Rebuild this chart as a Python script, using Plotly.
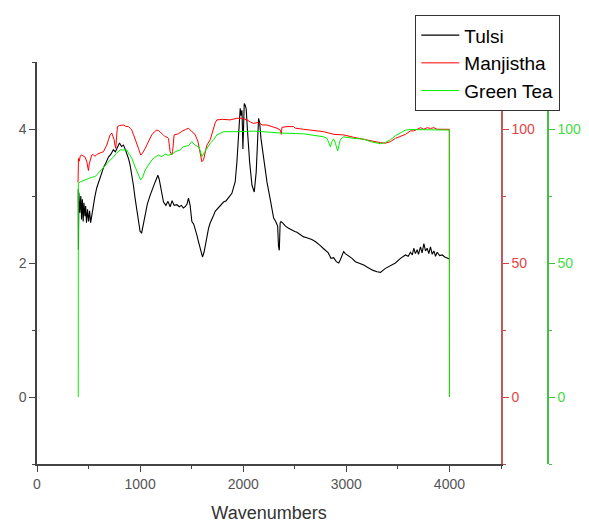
import plotly.graph_objects as go

# ---------------- data ----------------
tulsi_wn = [400, 402, 406, 415, 425, 432, 440, 448, 455, 465, 472, 480, 490, 500, 510, 520, 531, 545, 560, 579,
            600, 620, 644, 670, 693, 715, 741, 760, 780, 800, 820, 838, 855, 871, 887, 903, 920, 935, 950, 968,
            985, 1000, 1015, 1030, 1049, 1070, 1097, 1120, 1146, 1160, 1172, 1185, 1200, 1227, 1250, 1270, 1291, 1310, 1330, 1356,
            1380, 1400, 1420, 1437, 1455, 1469, 1485, 1502, 1520, 1534, 1550, 1566, 1585, 1605, 1620, 1631, 1648, 1664, 1680, 1696,
            1712, 1728, 1745, 1761, 1785, 1809, 1835, 1858, 1875, 1890, 1905, 1922, 1939, 1955, 1963, 1971, 1980, 1988, 1997, 2004,
            2010, 2020, 2029, 2042, 2062, 2085, 2107, 2126, 2140, 2149, 2159, 2172, 2198, 2230, 2262, 2295, 2315, 2334, 2342, 2350,
            2358, 2366, 2382, 2410, 2440, 2473, 2500, 2521, 2550, 2586, 2610, 2634, 2665, 2699, 2725, 2748, 2775, 2797, 2825, 2851,
            2877, 2903, 2926, 2942, 2958, 2974, 2990, 3023, 3055, 3088, 3130, 3169, 3200, 3233, 3260, 3298, 3331, 3379, 3428, 3476,
            3525, 3550, 3573, 3600, 3622, 3640, 3654, 3670, 3687, 3700, 3719, 3735, 3752, 3768, 3784, 3800, 3816, 3833, 3849, 3865,
            3881, 3905, 3930, 3955, 3978, 4000]
tulsi_abs = [3.10, 2.20, 3.05, 2.75, 3.00, 2.65, 2.95, 2.62, 2.90, 2.70, 2.85, 2.60, 2.80, 2.62, 2.78, 2.60, 2.72, 2.85, 2.98, 3.12,
             3.22, 3.30, 3.42, 3.50, 3.58, 3.62, 3.69, 3.66, 3.72, 3.79, 3.74, 3.76, 3.70, 3.64, 3.56, 3.46, 3.32, 3.16, 2.98, 2.77,
             2.58, 2.47, 2.45, 2.58, 2.75, 2.88, 3.01, 3.12, 3.21, 3.26, 3.31, 3.25, 3.12, 2.91, 2.86, 2.92, 2.84, 2.93, 2.86, 2.87,
             2.84, 2.86, 2.82, 2.84, 2.88, 2.97, 2.86, 2.62, 2.58, 2.52, 2.42, 2.32, 2.20, 2.09, 2.16, 2.26, 2.40, 2.52, 2.60, 2.67,
             2.71, 2.77, 2.80, 2.84, 2.87, 2.91, 2.93, 2.97, 3.00, 3.04, 3.12, 3.21, 3.51, 4.01, 4.25, 4.31, 4.20, 4.28, 3.70, 4.30,
             4.38, 4.35, 4.30, 3.96, 3.51, 3.16, 3.06, 3.36, 3.90, 4.16, 4.10, 3.86, 3.57, 3.21, 2.95, 2.67, 2.62, 2.55, 2.25, 2.19,
             2.60, 2.62, 2.60, 2.55, 2.52, 2.49, 2.47, 2.46, 2.43, 2.39, 2.38, 2.37, 2.35, 2.32, 2.28, 2.26, 2.22, 2.19, 2.15, 2.07,
             2.08, 2.02, 2.00, 2.05, 2.12, 2.17, 2.14, 2.11, 2.07, 2.02, 2.00, 1.97, 1.94, 1.91, 1.89, 1.87, 1.86, 1.92, 1.96, 2.00,
             2.07, 2.10, 2.12, 2.10, 2.16, 2.12, 2.22, 2.14, 2.20, 2.13, 2.24, 2.15, 2.29, 2.18, 2.22, 2.14, 2.24, 2.13, 2.18, 2.10,
             2.16, 2.11, 2.12, 2.09, 2.08, 2.06]

manj_wn = [398, 400, 402, 410, 420, 434, 450, 466, 482, 492, 499, 507, 515, 531, 545, 563, 580, 596, 620, 644,
           660, 677, 693, 709, 725, 740, 748, 756, 764, 772, 780, 800, 820, 838, 860, 887, 905, 919, 935, 951,
           968, 984, 995, 1006, 1020, 1032, 1050, 1065, 1090, 1113, 1140, 1162, 1180, 1194, 1220, 1243, 1260, 1275, 1291, 1307,
           1315, 1330, 1350, 1372, 1400, 1421, 1440, 1469, 1485, 1502, 1520, 1534, 1560, 1583, 1599, 1615, 1630, 1648, 1680, 1712,
           1730, 1745, 1800, 1874, 1939, 1988, 2036, 2070, 2101, 2149, 2182, 2230, 2279, 2327, 2359, 2370, 2375, 2424, 2489, 2505,
           2586, 2748, 2780, 2880, 2974, 3071, 3169, 3266, 3331, 3379, 3428, 3476, 3525, 3573, 3622, 3654, 3687, 3720, 3750, 3784,
           3816, 3849, 3881, 3930, 3978, 3999, 4000]
manj_t = [80, 86, 89, 88, 90, 90.3, 89.8, 89.5, 88, 85, 84.5, 87, 88.5, 90.3, 90.5, 89.8, 90.5, 90.9, 91.2, 91.5,
          92.5, 94, 96, 97.8, 98.5, 97, 96, 94, 92.8, 97, 100.9, 101.3, 101.5, 101.5, 101, 100.9, 100.2, 99.6, 98, 96.5,
          94.5, 92.8, 91.5, 90.3, 90.8, 91.5, 92.8, 94, 96, 97.8, 99, 99.6, 99.4, 99, 98, 97.1, 97, 96.5, 91.5, 90.3,
          91.5, 97.8, 98, 98.2, 99, 99.6, 99.8, 100.3, 99.6, 99, 98.5, 97.8, 95.5, 91.5, 87.8, 88.5, 91.5, 94, 96, 100.3,
          102.5, 103.4, 103.6, 103.4, 104, 104, 103.4, 102.6, 102.1, 102.5, 101.5, 101.5, 100.9, 100.3, 99.6, 98, 100.6, 100.9, 100.9, 100.3,
          99.9, 99.2, 99, 98, 97.8, 96.9, 96.1, 95.3, 94.9, 94.7, 95.3, 96.5, 97.3, 98, 99.3, 99.3, 99.9, 100.5, 99.9, 100.5,
          100.2, 100.5, 99.9, 99.9, 99.9, 99.9, 0]

green_wn = [400, 401, 420, 445, 466, 500, 531, 563, 596, 630, 644, 677, 709, 741, 770, 790, 806, 838, 871, 887,
            919, 951, 984, 1006, 1025, 1049, 1080, 1113, 1146, 1178, 1210, 1243, 1275, 1307, 1340, 1389, 1420, 1469, 1502, 1534,
            1566, 1583, 1599, 1615, 1648, 1680, 1712, 1745, 1777, 1809, 1939, 2101, 2262, 2359, 2586, 2780, 2813, 2845, 2861, 2877,
            2894, 2916, 2942, 2974, 3071, 3169, 3233, 3331, 3379, 3428, 3476, 3525, 3573, 3622, 3700, 3800, 3900, 3999, 4000]
green_t = [0, 79.7, 80.3, 80.8, 81, 81.5, 82, 82.2, 83.5, 85, 85.3, 87, 88.4, 89.5, 90.9, 91.5, 92.2, 92.2, 92.2, 91,
           89.1, 85.9, 82.8, 81, 82, 84.7, 86.5, 88.4, 89.5, 90.3, 89.7, 90.6, 90.2, 90.6, 91.5, 92.2, 93.4, 93.8, 95.3, 93.9,
           93.4, 92, 89.7, 90.8, 92.8, 94.7, 96, 97.8, 98.4, 99, 99, 99.2, 98.8, 98.5, 98.2, 97.1, 96.5, 93.4, 95.3, 96.3,
           94.7, 91.8, 96.1, 97.1, 96.5, 96.2, 95.3, 94.5, 95, 96, 97.5, 98.6, 99.6, 99.8, 99.7, 99.7, 99.6, 99.6, 0]

x_ticks = [0, 1000, 2000, 3000, 4000]
left_ticks = [0, 2, 4]
right_ticks = [0, 50, 100]

# ---------------- figure ----------------
FONT = "Liberation Sans, Arial, sans-serif"
W, H = 589, 523
ML, MR, MT, MB = 37, 30, 62, 59
PW = W - ML - MR
PH = H - MT - MB
x_end = (501 - ML) / PW
green_pos = (548 - ML) / PW

fig = go.Figure()
fig.add_trace(go.Scatter(x=tulsi_wn, y=tulsi_abs, name="Tulsi", mode="lines",
                         line=dict(color="#000000", width=1.1), yaxis="y"))
fig.add_trace(go.Scatter(x=manj_wn, y=manj_t, name="Manjistha", mode="lines",
                         line=dict(color="#ff0000", width=1), yaxis="y2"))
fig.add_trace(go.Scatter(x=green_wn, y=green_t, name="Green Tea", mode="lines",
                         line=dict(color="#00ee00", width=1), yaxis="y3"))

tickfont = dict(family=FONT, size=14, color="#555555")

fig.update_layout(
    width=W, height=H,
    margin=dict(l=ML, r=MR, t=MT, b=MB, pad=0, autoexpand=False),
    plot_bgcolor="white", paper_bgcolor="white",
    font=dict(family=FONT),
    showlegend=True,
    legend=dict(x=(415 - ML) / PW, y=(464 - 15) / PH, xanchor="left", yanchor="top",
                bgcolor="white", bordercolor="#333333", borderwidth=1.3,
                font=dict(family=FONT, size=19, color="#000000"),
                itemwidth=38, tracegroupgap=0, traceorder="normal"),
    xaxis=dict(domain=[0, x_end], range=[0, 4500], tickvals=x_ticks,
               ticks="outside", ticklen=6, tickwidth=1, tickcolor="#444444",
               minor=dict(ticks="outside", ticklen=3, tickwidth=1, tickcolor="#444444", dtick=500, tick0=0),
               showline=True, linecolor="#444444", linewidth=1.5,
               showgrid=False, zeroline=False, tickfont=tickfont,
               title=dict(text="Wavenumbers", font=dict(family=FONT, size=18, color="#333333"), standoff=22)),
    yaxis=dict(range=[-1, 5], tickvals=left_ticks,
               ticks="outside", ticklen=6, tickwidth=1, tickcolor="#444444",
               minor=dict(ticks="outside", ticklen=3, tickwidth=1, tickcolor="#444444", dtick=1, tick0=0),
               showline=True, linecolor="#444444", linewidth=1.5,
               showgrid=False, zeroline=False, tickfont=tickfont),
    yaxis2=dict(overlaying="y", side="right", anchor="x", range=[-25, 125], tickvals=right_ticks,
                ticks="outside", ticklen=6, tickwidth=1, tickcolor="#c84848",
                minor=dict(ticks="outside", ticklen=3, tickwidth=1, tickcolor="#c84848", dtick=25, tick0=0),
                showline=True, linecolor="#c05a5a", linewidth=1.5,
                showgrid=False, zeroline=False,
                tickfont=dict(family=FONT, size=14, color="#e04545")),
    yaxis3=dict(overlaying="y", side="right", anchor="free", position=green_pos,
                range=[-25, 125], tickvals=right_ticks,
                ticks="outside", ticklen=6, tickwidth=1, tickcolor="#40c040",
                minor=dict(ticks="outside", ticklen=3, tickwidth=1, tickcolor="#40c040", dtick=25, tick0=0),
                showline=True, linecolor="#44c044", linewidth=1.5,
                showgrid=False, zeroline=False,
                tickfont=dict(family=FONT, size=14, color="#44dd44")),
)

fig.write_html("out.html", config={"displayModeBar": False},
               post_script="document.body.style.margin='0';")
